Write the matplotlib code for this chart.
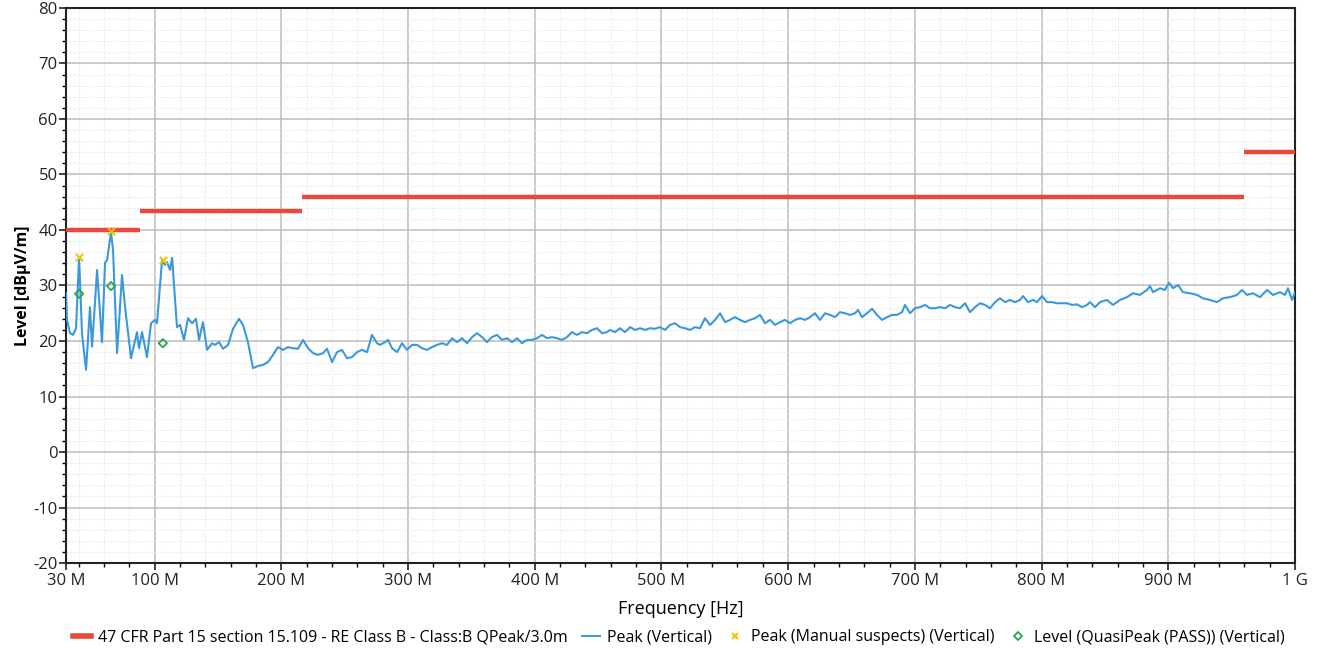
import numpy as np
import matplotlib.pyplot as plt
from matplotlib.ticker import MultipleLocator, FixedLocator
from matplotlib.lines import Line2D

plt.rcParams['font.family'] = ['Open Sans', 'DejaVu Sans']
plt.rcParams['axes.unicode_minus'] = False

# Limit line (47 CFR Part 15.109 Class B, 3 m)
limit_start = [30, 88, 216, 960]
limit_stop = [88, 216, 960, 1000]
limit_level = [40, 43.5, 46, 54]

# Peak trace (vertical), frequency in MHz, level in dBuV/m
peak_freq = [
    30, 30.8, 33.2, 35.5, 37.9, 40.3, 42.6, 45.8, 48.9, 50.5, 52.1, 54.5, 58.4, 60.8, 62.4,
    65.5, 67.1, 70.3, 74.2, 76.6, 81.3, 86.0, 87.6, 90.0, 93.9, 97.1, 100.2, 101.8, 105.8,
    108.1, 109.7, 112.1, 113.7, 117.6,
    120.0, 123.1, 126.3, 129.5, 132.6, 135.0, 138.1, 141.3, 145.2, 147.6, 150.8, 153.9,
    157.9, 161.8, 166.5, 169.7, 173.6, 177.6, 181.5, 185.5, 189.4, 193.4, 197.3, 201.3,
    205.2, 209.2, 213.1, 217.1, 221.0, 225.0, 228.9, 232.8, 236.0, 240.0, 243.9, 247.8,
    251.8, 255.7, 259.7, 263.6, 267.6, 271.5, 275.5,
    277.8, 281.8, 284.2, 287.3, 291.3, 295.2, 299.1, 303.1, 307.0, 311.0, 314.9, 318.9,
    322.8, 326.8, 330.7, 334.7, 338.6, 342.6, 346.5, 350.5, 354.4, 358.4, 362.3, 366.2,
    370.2, 374.1, 378.1, 382.0, 386.0, 389.9, 393.9, 397.8, 401.8, 405.7, 409.7, 413.6,
    417.5, 421.5, 425.4, 429.4, 433.3, 437.3, 441.2, 445.2, 449.1, 453.1, 457.0,
    459.4, 463.3, 467.3, 471.2, 475.2, 479.1, 483.1, 487.0, 490.9, 494.9, 498.8, 502.8,
    506.7, 510.7, 514.6, 518.6, 522.5, 526.5, 530.4, 534.4, 538.3, 542.3, 546.2, 550.2,
    554.1, 558.0, 562.0, 565.9, 569.9, 573.8, 577.8, 581.7, 585.7, 589.6, 593.6, 597.5,
    601.5, 605.4, 609.4, 613.3, 617.3, 621.2, 625.1, 629.1, 633.0, 637.0, 640.9, 644.9,
    648.8, 652.8, 655.1, 658.3, 662.2, 666.2, 670.1, 674.1, 678.0, 682.0, 685.9, 689.9,
    692.2, 696.2, 700.1, 704.1, 708.0, 712.0, 715.9, 719.9, 723.8, 727.8, 731.7, 735.6,
    739.6, 743.5, 747.5, 751.4, 755.4, 759.3, 763.3, 767.2, 771.2, 775.1, 779.1, 783.0,
    785.4, 789.3, 793.3, 796.4, 800.4, 804.3, 808.3, 812.2, 816.1, 820.1, 824.0, 828.0,
    831.9, 835.9, 838.2, 842.2,
    846.1, 851.6, 856.4, 861.9, 867.4, 872.2, 877.7, 883.2, 885.6, 888.0, 893.5, 897.4,
    900.6, 903.8, 907.7, 911.6, 917.2, 922.7, 927.4, 932.9, 938.5, 943.2, 948.7, 954.3,
    958.2, 962.2, 966.9, 972.4, 978.0, 982.7, 988.2, 992.1, 994.5, 997.7, 1000,
]
peak_level = [
    28.6, 23.8, 21.4, 21.1, 22.3, 35.1, 21.4, 14.8, 26.1, 19.0, 24.3, 32.8, 19.8, 34.1, 34.6,
    39.6, 36.4, 17.8, 31.9, 26.1, 16.9, 21.6, 18.7, 21.6, 17.1, 23.2, 23.8, 23.2, 34.6,
    33.7, 34.2, 32.8, 35.0, 22.5,
    22.9, 20.2, 24.1, 23.2, 24.0, 20.2, 23.4, 18.4, 19.6, 19.3, 19.8, 18.6,
    19.3, 22.2, 24.0, 22.9, 19.8, 15.1, 15.5, 15.7, 16.2, 17.5, 18.9, 18.4,
    18.9, 18.7, 18.6, 20.2, 18.7, 17.8, 17.5, 17.8, 18.6, 16.2, 18.0, 18.4,
    16.9, 17.1, 18.0, 18.4, 18.0, 21.1, 19.6,
    19.3, 19.8, 20.2, 18.7, 18.0, 19.6, 18.4, 19.3, 19.3, 18.7, 18.4, 18.9,
    19.3, 19.6, 19.3, 20.5, 19.8, 20.5, 19.6, 20.7, 21.4, 20.7, 19.8, 20.7,
    21.1, 20.2, 20.5, 19.8, 20.5, 19.6, 20.2, 20.2, 20.5, 21.1, 20.5, 20.7,
    20.5, 20.2, 20.7, 21.6, 21.1, 21.6, 21.4, 22.0, 22.3, 21.4, 21.6,
    22.0, 21.6, 22.3, 21.6, 22.5, 22.0, 22.3, 22.0, 22.3, 22.2, 22.5, 22.0,
    22.9, 23.2, 22.5, 22.3, 22.0, 22.5, 22.3, 24.1, 22.9, 23.8, 25.0, 23.4,
    23.8, 24.3, 23.8, 23.4, 23.8, 24.1, 24.7, 23.2, 23.8, 22.9, 23.4, 23.8,
    23.2, 23.8, 24.1, 23.8, 24.3, 25.0, 23.8, 25.0, 24.7, 24.3, 25.2, 25.0,
    24.7, 25.0, 25.6, 24.3, 25.0, 25.8, 24.7, 23.8, 24.3, 24.7, 24.7, 25.2,
    26.5, 25.0, 25.9, 26.1, 26.5, 25.9, 25.9, 26.1, 25.9, 26.5, 26.1, 25.9,
    26.8, 25.2, 26.1, 26.8, 26.5, 25.9, 27.0, 27.7, 27.0, 27.4, 27.0, 27.4,
    28.1, 27.0, 27.4, 27.0, 28.1, 27.0, 27.0, 26.8, 26.8, 26.8, 26.5, 26.6,
    26.1, 26.5, 27.0, 26.1,
    27.0, 27.4, 26.5, 27.4, 27.9, 28.6, 28.3, 29.2, 29.9, 28.8, 29.5, 29.2,
    30.5, 29.5, 30.1, 28.8, 28.6, 28.3, 27.7, 27.4, 27.0, 27.7, 27.9, 28.3,
    29.2, 28.3, 28.6, 27.9, 29.2, 28.3, 28.8, 28.3, 29.5, 27.4, 28.8,
]

# Manual suspects (peak) and quasi-peak results
suspect_freq = [40.3, 65.5, 106.4]
suspect_level = [35.1, 39.8, 34.6]
qp_freq = [40.3, 65.5, 106.4]
qp_level = [28.5, 29.9, 19.6]

tick_freq = [30, 100, 200, 300, 400, 500, 600, 700, 800, 900, 1000]
tick_labels = ['30 M', '100 M', '200 M', '300 M', '400 M', '500 M', '600 M',
               '700 M', '800 M', '900 M', '1 G']

red = '#e8493c'
blue = '#3b99db'
yellow = '#f2c40f'
green = '#2aa651'

fig = plt.figure(figsize=(13.18, 6.49), dpi=100)
ax = fig.add_axes([0.0501, 0.1325, 0.9324, 0.8552])

for s, e, lv in zip(limit_start, limit_stop, limit_level):
    ax.plot([s, e], [lv, lv], color=red, lw=3.2, solid_capstyle='butt', zorder=3)

ax.plot(peak_freq, peak_level, color=blue, lw=1.5, zorder=4)
ax.scatter(suspect_freq, suspect_level, marker='x', color=yellow, s=28, lw=1.5, zorder=5)
ax.scatter(qp_freq, qp_level, marker='D', facecolor='none', edgecolor=green, s=18, lw=1.3, zorder=5)

ax.set_xlim(30, 1000)
ax.set_ylim(-20, 80)
ax.xaxis.set_major_locator(FixedLocator(tick_freq))
ax.set_xticklabels(tick_labels)
ax.xaxis.set_minor_locator(MultipleLocator(20))
ax.yaxis.set_major_locator(MultipleLocator(10))
ax.yaxis.set_minor_locator(MultipleLocator(2))

ax.grid(which='major', color='#bdbdbd', lw=1.1)
ax.grid(which='minor', color='#e3e3e3', lw=0.8, ls=':')
ax.set_axisbelow(True)

for sp in ax.spines.values():
    sp.set_linewidth(1.5)
    sp.set_color('#222222')

ax.tick_params(which='major', direction='out', length=5, width=1.2, labelsize=12, colors='#222222')
ax.tick_params(which='minor', direction='out', length=3, width=1.0)
ax.tick_params(axis='x', pad=2)
ax.tick_params(axis='y', pad=1)

ax.set_xlabel('Frequency [Hz]', fontsize=13, labelpad=8)
ax.set_ylabel('Level [dBµV/m]', fontsize=11.5, fontweight='bold', labelpad=2)

handles = [
    Line2D([], [], color=red, lw=4),
    Line2D([], [], color=blue, lw=1.4),
    Line2D([], [], color=yellow, marker='x', ls='none', markersize=5, mew=1.5),
    Line2D([], [], color=green, marker='D', ls='none', markersize=4, mfc='none', mew=1.3),
]
labels = [
    '47 CFR Part 15 section 15.109 - RE Class B - Class:B QPeak/3.0m',
    'Peak (Vertical)',
    'Peak (Manual suspects) (Vertical)',
    'Level (QuasiPeak (PASS)) (Vertical)',
]
fig.legend(handles, labels, loc='center', bbox_to_anchor=(0.515, 0.018), ncol=4,
           frameon=False, fontsize=11.5, handlelength=1.1, columnspacing=0.9,
           handletextpad=0.45)

fig.savefig('out.png', dpi=100)
